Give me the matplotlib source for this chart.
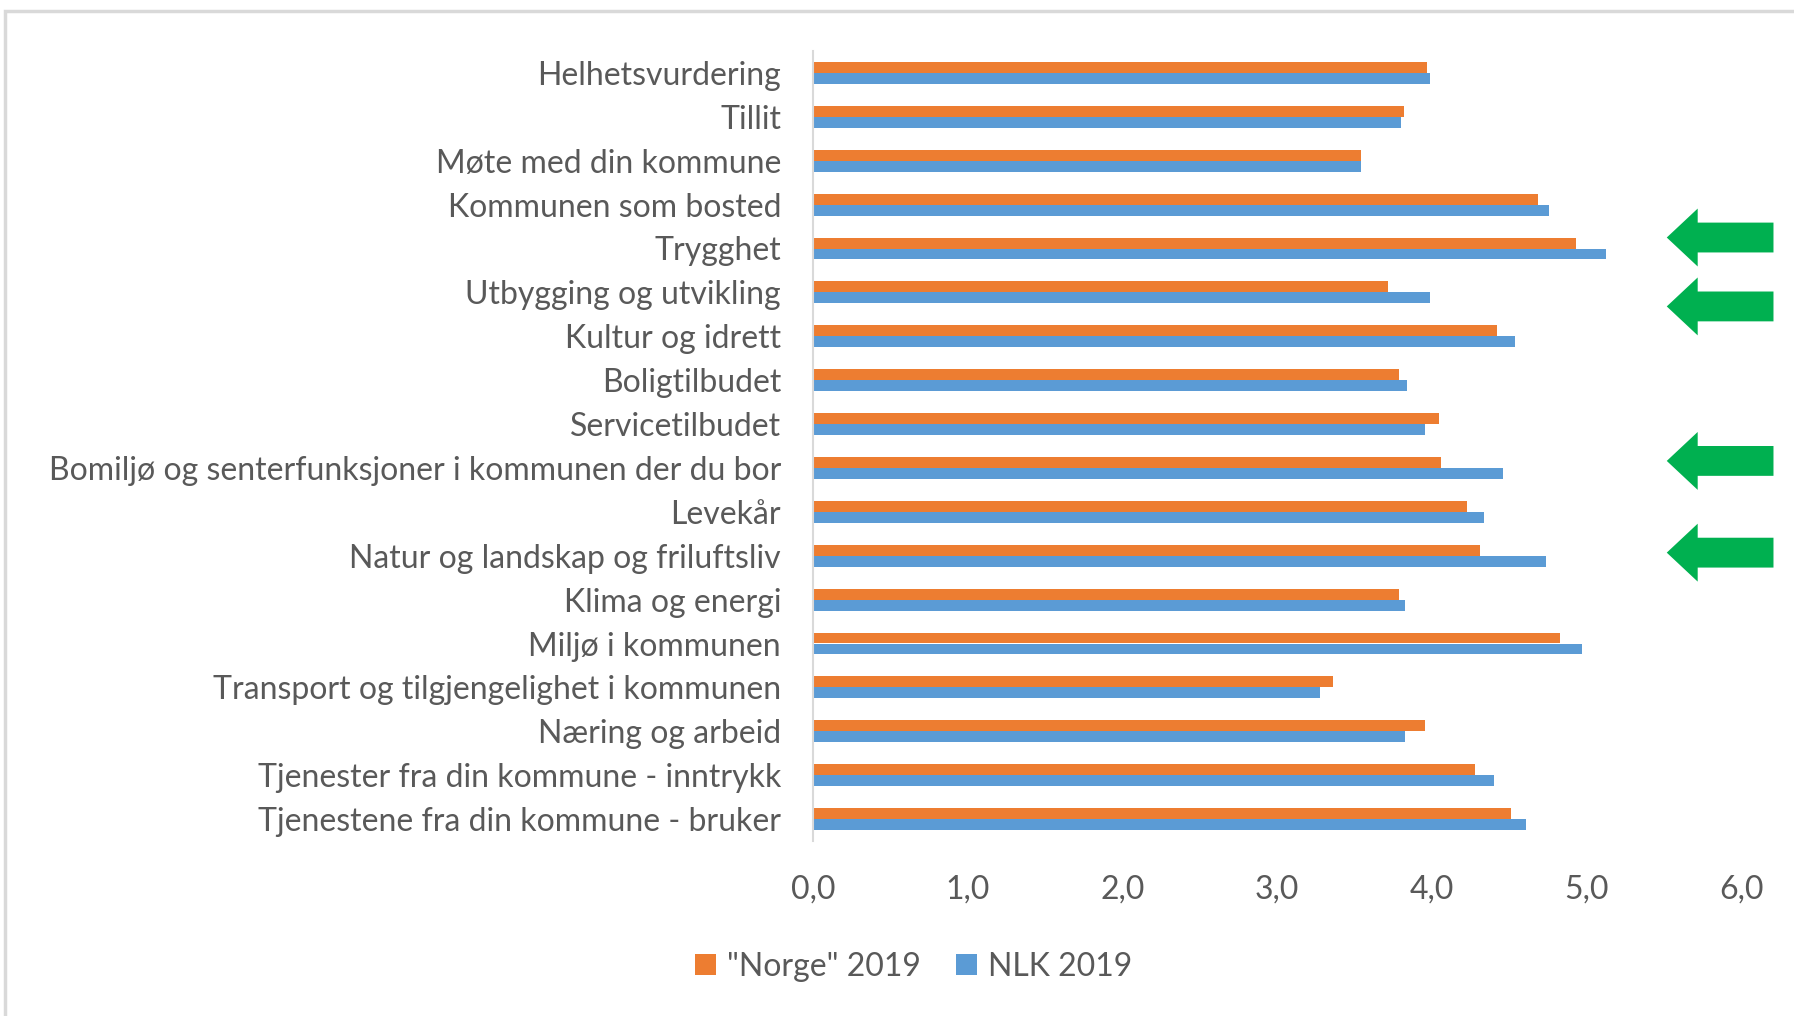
import matplotlib
matplotlib.use("Agg")
import matplotlib.pyplot as plt
from matplotlib.patches import Polygon, Rectangle
from matplotlib.ticker import FuncFormatter

categories = [
    "Helhetsvurdering",
    "Tillit",
    "Møte med din kommune",
    "Kommunen som bosted",
    "Trygghet",
    "Utbygging og utvikling",
    "Kultur og idrett",
    "Boligtilbudet",
    "Servicetilbudet",
    "Bomiljø og senterfunksjoner i kommunen der du bor",
    "Levekår",
    "Natur og landskap og friluftsliv",
    "Klima og energi",
    "Miljø i kommunen",
    "Transport og tilgjengelighet i kommunen",
    "Næring og arbeid",
    "Tjenester fra din kommune - inntrykk",
    "Tjenestene fra din kommune - bruker",
]
norge_2019 = [3.97, 3.82, 3.54, 4.69, 4.93, 3.72, 4.42, 3.79, 4.05, 4.06,
              4.23, 4.31, 3.79, 4.83, 3.36, 3.96, 4.28, 4.51]
nlk_2019 = [3.99, 3.80, 3.54, 4.76, 5.13, 3.99, 4.54, 3.84, 3.96, 4.46,
            4.34, 4.74, 3.83, 4.97, 3.28, 3.83, 4.40, 4.61]
series_labels = ['"Norge" 2019', 'NLK 2019']
arrow_rows = ["Trygghet", "Utbygging og utvikling",
              "Bomiljø og senterfunksjoner i kommunen der du bor",
              "Natur og landskap og friluftsliv"]
x_ticks = [0, 1, 2, 3, 4, 5, 6]

ORANGE = "#ED7D31"
BLUE = "#5B9BD5"
GREEN = "#00B050"
TEXT = "#595959"
FONT = "Lato"
FS = 23

W, H = 1794, 1016
fig = plt.figure(figsize=(W / 100, H / 100), dpi=100)
fig.patch.set_facecolor("white")

# chart-area border (top and left visible)
fig.patches.append(Rectangle((5 / W, -0.05), 1.2, 1 - 11 / H + 0.05,
                             transform=fig.transFigure, fill=False,
                             edgecolor="#D9D9D9", linewidth=2.5, zorder=0))

left, right = 813 / W, 1741 / W
top, bottom = 1 - 51 / H, 1 - 841 / H
ax = fig.add_axes([left, bottom, right - left, top - bottom])

h = 0.25
ys = list(range(len(categories)))
ax.barh([y - h / 2 for y in ys], norge_2019, height=h, color=ORANGE,
        label=series_labels[0], edgecolor="none")
ax.barh([y + h / 2 for y in ys], nlk_2019, height=h, color=BLUE,
        label=series_labels[1], edgecolor="none")

ax.set_xlim(0, 6)
ax.set_ylim(len(categories) - 0.5, -0.5)
ax.set_yticks(ys)
ax.set_yticklabels(categories, fontfamily=FONT, fontsize=FS, color=TEXT)
ax.set_xticks(x_ticks)
ax.xaxis.set_major_formatter(FuncFormatter(lambda v, p: f"{v:.1f}".replace(".", ",")))
for lab in ax.get_xticklabels():
    lab.set_fontfamily(FONT)
    lab.set_fontsize(FS)
    lab.set_color(TEXT)
ax.tick_params(axis="y", length=0, pad=23)
ax.tick_params(axis="x", length=0, pad=24)
for s in ["top", "right", "bottom"]:
    ax.spines[s].set_visible(False)
ax.spines["left"].set_color("#D9D9D9")
ax.spines["left"].set_linewidth(1.5)
ax.set_facecolor("none")

# green arrows (annotations to the right of the plot)
arrow_offsets = [-0.25, 0.32, -0.16, -0.07]
tip_x, back_x, end_x = 5.52, 5.72, 6.21
head_h, shaft_h = 0.66, 0.34
for name, off in zip(arrow_rows, arrow_offsets):
    y = categories.index(name) + off
    pts = [(tip_x, y), (back_x, y - head_h), (back_x, y - shaft_h),
           (end_x, y - shaft_h), (end_x, y + shaft_h), (back_x, y + shaft_h),
           (back_x, y + head_h)]
    ax.add_patch(Polygon(pts, closed=True, facecolor=GREEN, edgecolor="none",
                         clip_on=False))

leg = fig.legend(loc="center", bbox_to_anchor=(914 / W, 1 - 967 / H),
                 ncol=2, frameon=False, handlelength=0.65, handleheight=0.65,
                 handletextpad=0.35, columnspacing=1.1,
                 prop={"family": FONT, "size": FS})
for t in leg.get_texts():
    t.set_color(TEXT)

fig.savefig("out.png", dpi=100, facecolor="white")
